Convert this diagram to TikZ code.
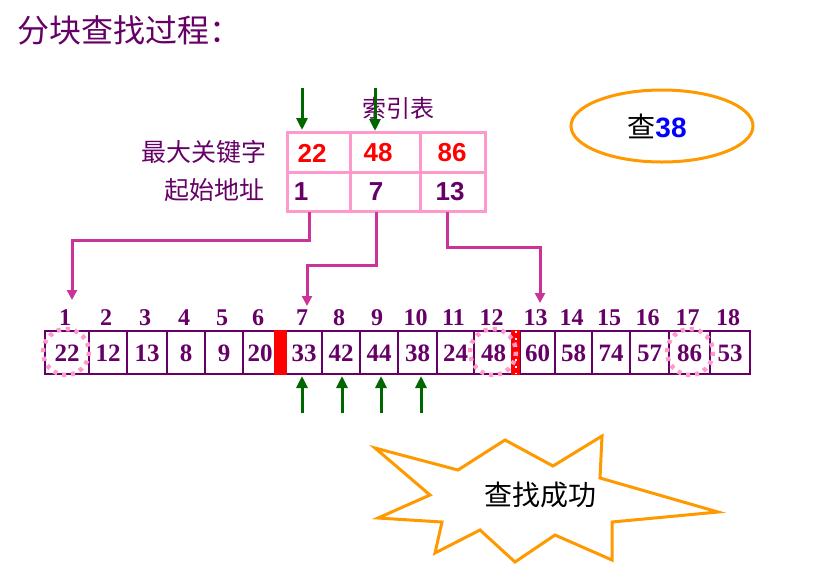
\documentclass[tikz,border=0pt]{standalone}
\usepackage{fontspec}
\setmainfont{Liberation Serif}
\newfontfamily\cjk{Noto Sans CJK SC}
\newfontfamily\hel{Liberation Sans}
\usetikzlibrary{arrows.meta,shapes.geometric}
\definecolor{pur}{HTML}{660066}
\definecolor{mag}{HTML}{CC3399}
\definecolor{pk}{HTML}{FF99CC}
\definecolor{gr}{HTML}{006600}
\definecolor{orng}{HTML}{FF9900}
\tikzset{x=1pt,y=-1pt,
 cell/.style={draw=pur,line width=2.4pt},
 num/.style={font=\fontsize{25}{25}\selectfont\bfseries,text=pur},
 idx/.style={font=\fontsize{24}{24}\selectfont\bfseries,text=pur},
 conn/.style={draw=mag,line width=3pt,-{Triangle[length=10pt,width=10pt]}},
 garr/.style={draw=gr,line width=3pt,-{Triangle[length=12pt,width=11pt]}},
 circ/.style={draw=pk,line width=4.5pt,dash pattern=on 4pt off 5pt},
 tb/.style={draw=pk,line width=3pt}}
\begin{document}
\begin{tikzpicture}
\useasboundingbox (0,0) rectangle (818,566);
\node[anchor=west,text=pur,font=\cjk\fontsize{32}{32}\selectfont] (title) at (14,30) {分块查找过程：};
% index table
\draw[tb] (287,132) rectangle (485,211);
\draw[tb] (287,172) -- (485,172);
\draw[tb] (350,132) -- (350,211);
\draw[tb] (420,132) -- (420,211);
\node[text=pur,font=\cjk\fontsize{24}{24}\selectfont] (ttl) at (398,108) {索引表};
\node[anchor=east,text=pur,font=\cjk\fontsize{25}{25}\selectfont] (l1) at (270,152) {最大关键字};
\node[anchor=east,text=pur,font=\cjk\fontsize{25}{25}\selectfont] (l2) at (268,190) {起始地址};
\tikzset{kk/.style={font=\hel\fontsize{26}{26}\selectfont\bfseries,text=red},
 aa/.style={font=\hel\fontsize{26}{26}\selectfont\bfseries,text=pur}}
\node[kk] (k1) at (312,153) {22};
\node[kk] (k2) at (378,153) {48};
\node[kk] (k3) at (452,153) {86};
\node[aa] (a1) at (301,192) {1};
\node[aa] (a2) at (376,192) {7};
\node[aa] (a3) at (450,192) {13};
\coordinate (s1) at (309,212); \coordinate (s2) at (376,212); \coordinate (s3) at (447,212);
% array
\foreach \i/\l/\r/\v in {1/45/89/22,2/89/127/12,3/127/167/13,4/167/205/8,5/205/243/9,6/243/277/20,7/286/322/33,8/322/360/42,9/360/398/44,10/398/437/38,11/437/474/24,12/474/513/48,13/520/555/60,14/555/592/58,15/592/630/74,16/630/669/57,17/669/710/86,18/710/750/53}{
 \draw[cell] (\l,331) rectangle (\r,374);
 \node[num] (c\i) at ({(\l+\r)/2},353) {\v};
 \node[idx] (n\i) at ({(\l+\r)/2-2},318) {\i};
}
\fill[red] (274,330) rectangle (287,375);
\fill[red] (511,330) rectangle (520,375);
\draw[white,line width=2pt,dash pattern=on 2pt off 5pt] (515.5,331) -- (515.5,374);
% connectors
\coordinate (t1) at (72,300); \coordinate (t7) at (307,306); \coordinate (t13) at (540,303);
\draw[conn] (s1) |- (72,240) -- (t1);
\draw[conn] (s2) |- (307,265) -- (t7);
\draw[conn] (s3) |- (540,247) -- (t13);
% green arrows
\coordinate (g1) at (302,88); \coordinate (g2) at (375,88);
\draw[garr] (g1) -- (302,130);
\draw[garr] (g2) -- (375,131);
\foreach \x/\n in {302/7,342/8,381/9,421/10}{
 \coordinate (u\n) at (\x,413);
 \draw[garr] (u\n) -- (\x,376);
}
% dotted circles
\draw[circ] (66,352) circle (23);
\draw[circ] (493,352) circle (23);
\draw[circ] (690,352) circle (23);
% ellipse
\node[draw=orng,line width=3pt,ellipse,minimum width=182pt,minimum height=72pt,inner sep=0pt] (q) at (662,126) {};
\node[font=\fontsize{28}{28}\selectfont] (qt) at (657,126) {{\cjk 查}{\hel\bfseries\color{blue}38}};
% star
\draw[orng,line width=3pt,fill=white] (375,448) -- (458,470) -- (505,440) -- (553,466) -- (602,436) -- (600,478) -- (718,512) -- (612,522) -- (612,560) -- (555,535) -- (515,562) -- (480,530) -- (435,553) -- (442,522) -- (378,518) -- (430,495) -- cycle;
\node[font=\cjk\fontsize{28}{28}\selectfont] (ok) at (540,495) {查找成功};
\end{tikzpicture}
\end{document}
